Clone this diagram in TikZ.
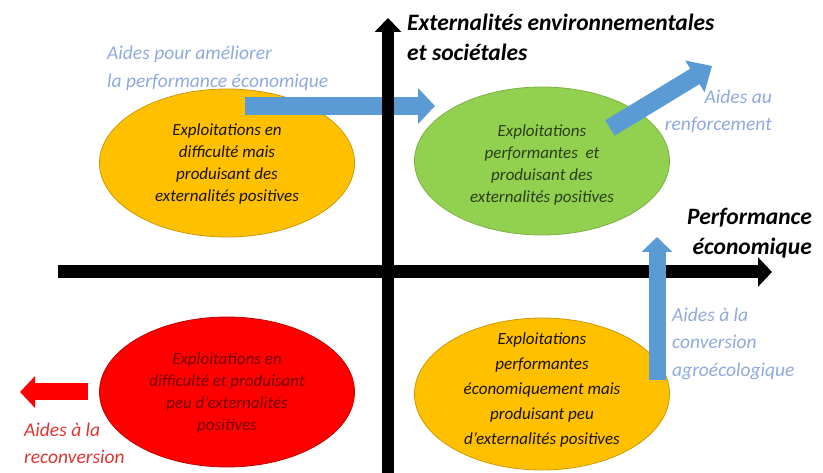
\documentclass[tikz,border=0pt]{standalone}
\usepackage{fontspec}
\setmainfont{Carlito}
\usetikzlibrary{arrows.meta,shapes.geometric}
\definecolor{jaune}{HTML}{FFC000}
\definecolor{vert}{HTML}{92D050}
\definecolor{rouge}{HTML}{FF0000}
\definecolor{bleu}{HTML}{5B9BD5}
\definecolor{bleuclair}{HTML}{8FAADC}
\definecolor{rougeclair}{HTML}{DC3535}

\begin{document}
\begin{tikzpicture}[x=1pt, y=-1pt,
		ferme/.style={ellipse, minimum width=255pt, minimum height=148pt, inner sep=0pt, line width=0.8pt},
		texte/.style={inner sep=0pt, align=center, font=\fontsize{17}{22.3}\selectfont\itshape},
		aide/.style={inner sep=0pt, font=\fontsize{19.5}{27.5}\selectfont\itshape, text=bleuclair},
		titre/.style={inner sep=0pt, font=\fontsize{23.5}{30}\selectfont\bfseries\itshape},
		axe/.style={line width=12pt, -{Triangle[length=14pt,width=26pt]}},
		fleche/.style={line width=18pt, draw=bleu, -{Triangle[length=17pt,width=35pt]}}]
	\useasboundingbox (0,0) rectangle (823,473);
	\node[ferme, fill=jaune, draw=jaune!80!black] (DM) at (227,163) {};
	\node[texte, text=black!90!jaune] at (227,164)
		{Exploitations en\\difficulté mais\\produisant des\\externalités positives};
	\node[ferme, fill=vert, draw=vert!85!black] (P) at (542,161) {};
	\node[texte, text=vert!30!black] at (542,165)
		{Exploitations\\performantes\ \ et\\produisant des\\externalités positives};
	\node[ferme, fill=rouge, draw=rouge!75!black, minimum height=150pt] (DP) at (227,392) {};
	\node[texte, text=rouge!45!black] at (227,393)
		{Exploitations en\\difficulté et produisant\\peu d'externalités\\positives};
	\node[ferme, fill=jaune, draw=jaune!80!black, minimum height=152pt] (PE) at (542,394) {};
	\node[texte, text=black!90!jaune, font=\fontsize{17}{25}\selectfont\itshape] at (542,390)
		{Exploitations\\performantes\\économiquement mais\\produisant peu\\d'externalités positives};
	\coordinate (H1) at (245,106);
	\coordinate (H2) at (435,106);
	\draw[fleche] (H1) -- (H2);
	\coordinate (Ybas) at (388,473);
	\coordinate (Yhaut) at (388,18);
	\coordinate (Xgauche) at (58,272);
	\coordinate (Xdroite) at (772,272);
	\draw[axe] (Ybas) -- (Yhaut);
	\draw[axe, line width=13pt, -{Triangle[length=14pt,width=29pt]}] (Xgauche) -- (Xdroite);
	\coordinate (V1) at (657,380);
	\coordinate (V2) at (657,237);
	\draw[fleche, line width=17pt, -{Triangle[length=15pt,width=30pt]}] (V1) -- (V2);
	\coordinate (D1) at (610,128);
	\coordinate (D2) at (712,66);
	\draw[fleche, -{Triangle[length=20pt,width=36pt]}] (D1) -- (D2);
	\coordinate (R1) at (88,392);
	\coordinate (R2) at (20,392);
	\draw[line width=17pt, draw=rouge, -{Triangle[length=15pt,width=31pt]}] (R1) -- (R2);
	\node[titre, anchor=west, align=left] (EX) at (407,37) {Externalités environnementales\\et sociétales};
	\node[titre, anchor=east, align=right] (PF) at (812,233) {Performance\\économique};
	\node[aide, anchor=west, align=left] (A1) at (107,68.5) {Aides pour améliorer\\la performance économique};
	\node[aide, anchor=east, align=right] (A2) at (772,111.5) {Aides au\\renforcement};
	\node[aide, anchor=west, align=left] (A3) at (672,343.5) {Aides à la\\conversion\\agroécologique};
	\node[aide, anchor=west, align=left, text=rougeclair] (A4) at (24,443.5) {Aides à la\\reconversion};
\end{tikzpicture}
\end{document}
